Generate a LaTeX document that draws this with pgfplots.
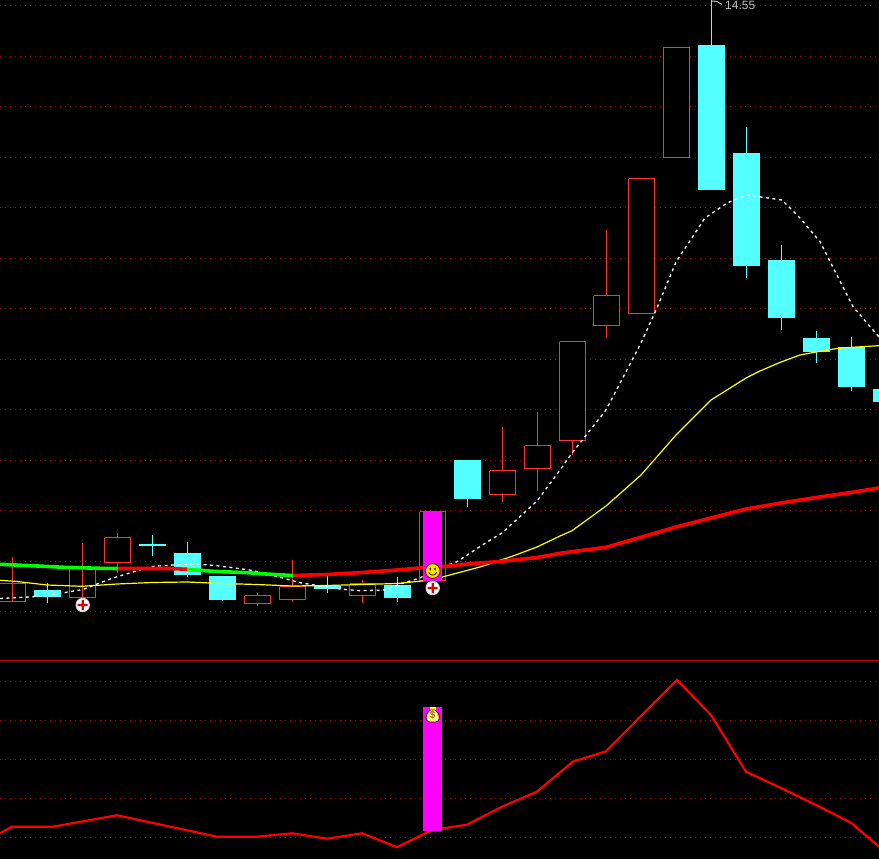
\documentclass[border=0pt]{standalone}
\usepackage{fontspec}
\setmainfont{Liberation Sans}
\usepackage{pgfplots}
\pgfplotsset{compat=1.18}

\definecolor{upred}{HTML}{FF3232}
\definecolor{downcyan}{HTML}{54FFFF}
\definecolor{gridred}{HTML}{C00000}
\definecolor{sepred}{HTML}{C80000}
\definecolor{labelgrey}{HTML}{C0C0C0}
\definecolor{signal}{HTML}{FF00FF}
\definecolor{pureyellow}{HTML}{FFFF00}
\definecolor{purered}{HTML}{FF0000}
\definecolor{puregreen}{HTML}{00FF00}

% hollow candle: left, right, top, bottom, x, wick top, wick bottom
\newcommand{\upcandle}[7]{%
  \addplot[upred, line width=1.2pt, fill=black] coordinates {(#1,#3)(#2,#3)(#2,#4)(#1,#4)(#1,#3)};
  \addplot[upred, line width=1.2pt] coordinates {(#5,#6)(#5,#3)};
  \addplot[upred, line width=1.2pt] coordinates {(#5,#4)(#5,#7)};
}
% filled candle: left, right, top, bottom, x, wick top, wick bottom
\newcommand{\downcandle}[7]{%
  \addplot[downcyan, line width=1.2pt] coordinates {(#5,#6)(#5,#7)};
  \addplot[fill=downcyan, draw=none] coordinates {(#1,#3)(#2,#3)(#2,#4)(#1,#4)};
}

\pgfdeclareplotmark{buyplus}{%
  \pgfsetfillcolor{white!82!black}\pgfpathcircle{\pgfpointorigin}{7.2pt}\pgfusepath{fill}
  \pgfsetfillcolor{white}\pgfpathcircle{\pgfpointorigin}{6.2pt}\pgfusepath{fill}
  \pgfsetfillcolor{purered!90!black}
  \pgfpathrectangle{\pgfpoint{-5pt}{-1.2pt}}{\pgfpoint{10pt}{2.4pt}}
  \pgfpathrectangle{\pgfpoint{-1.2pt}{-5pt}}{\pgfpoint{2.4pt}{10pt}}
  \pgfusepath{fill}
}
\pgfdeclareplotmark{smiley}{%
  \pgfsetfillcolor{pureyellow!78!orange}\pgfsetstrokecolor{black!70!orange}\pgfsetlinewidth{0.9pt}
  \pgfpathcircle{\pgfpointorigin}{7.4pt}\pgfusepath{fill,stroke}
  \pgfsetfillcolor{black!80!orange}
  \pgfpathellipse{\pgfpoint{-2.4pt}{2pt}}{\pgfpoint{0.9pt}{0pt}}{\pgfpoint{0pt}{1.6pt}}
  \pgfpathellipse{\pgfpoint{2.4pt}{2pt}}{\pgfpoint{0.9pt}{0pt}}{\pgfpoint{0pt}{1.6pt}}
  \pgfusepath{fill}
  \pgfsetlinewidth{0.9pt}
  \pgfpathmoveto{\pgfpoint{-4pt}{-1.4pt}}
  \pgfpathcurveto{\pgfpoint{-2.5pt}{-5pt}}{\pgfpoint{2.5pt}{-5pt}}{\pgfpoint{4pt}{-1.4pt}}
  \pgfusepath{stroke}
}
\pgfdeclareplotmark{moneybag}{%
  \pgfsetfillcolor{pureyellow}\pgfsetstrokecolor{black!75!red}\pgfsetlinewidth{0.8pt}
  \pgfpathrectangle{\pgfpoint{-3pt}{5.5pt}}{\pgfpoint{6pt}{3pt}}\pgfusepath{fill}
  \pgfsetfillcolor{pureyellow!55!white}
  \pgfpathmoveto{\pgfpoint{-2.5pt}{5.5pt}}
  \pgfpathcurveto{\pgfpoint{-8pt}{2pt}}{\pgfpoint{-8pt}{-6.5pt}}{\pgfpoint{-3pt}{-6.5pt}}
  \pgfpathlineto{\pgfpoint{3pt}{-6.5pt}}
  \pgfpathcurveto{\pgfpoint{8pt}{-6.5pt}}{\pgfpoint{8pt}{2pt}}{\pgfpoint{2.5pt}{5.5pt}}
  \pgfpathclose
  \pgfusepath{fill,stroke}
  \pgftext{\fontsize{10}{10}\selectfont\bfseries\color{brown!80!black}\$}
}

\begin{document}
\begin{tikzpicture}
\begin{axis}[
    width=879pt, height=859pt, scale only axis,
    xmin=0, xmax=879, ymin=0, ymax=859,
    y dir=reverse,
    xtick=\empty, ytick=\empty,
    axis line style={draw=none},
    axis background/.style={fill=black},
]

% grid of both panels
\pgfplotsinvokeforeach {5.5,56.5,106.5,157.5,207.5,258.5,308.5,359.5,409.5,460.5,510.5,561.5,611.5,681.5,720.5,759.5,798.5,837.5}{
  \addplot[gridred, line width=1.2pt, dash pattern=on 1.3pt off 3.7pt] coordinates {(0,#1)(879,#1)};
}
\addplot[sepred, line width=1.2pt] coordinates {(0,660.5)(879,660.5)};

% candles
\upcandle{-1.5}{25.5}{583.5}{601.5}{12.5}{557}{583.5}
\downcandle{34}{61}{590}{597}{47.5}{583}{603}
\upcandle{69.5}{95.5}{568.5}{597.5}{82.5}{543}{568.5}
\upcandle{104.5}{130.5}{537.5}{562.5}{117.5}{533}{573}
\addplot[downcyan, line width=2pt] coordinates {(139,545)(166,545)};
\addplot[downcyan, line width=1.2pt] coordinates {(152.5,535)(152.5,556)};
\downcandle{174}{201}{553}{575}{187.5}{542}{577}
\downcandle{209}{236}{576}{600}{222.5}{576}{601}
\upcandle{244.5}{270.5}{595.5}{603.5}{257.5}{593}{606}
\upcandle{279.5}{305.5}{586.5}{599.5}{292.5}{560}{602}
\downcandle{314}{341}{586}{589}{327.5}{576}{593}
\upcandle{349.5}{375.5}{583.5}{595.5}{362.5}{580}{603}
\downcandle{384}{411}{585}{598}{397.5}{577}{602}
\upcandle{419.5}{445.5}{511.5}{580.5}{432.5}{511.5}{580.5}
\downcandle{454}{481}{460}{499}{467.5}{460}{507}
\upcandle{489.5}{515.5}{470.5}{494.5}{502.5}{427}{502}
\upcandle{524.5}{550.5}{445.5}{468.5}{537.5}{412}{491}
\upcandle{559.5}{585.5}{341.5}{440.5}{572.5}{341.5}{455}
\upcandle{593.5}{619.5}{295.5}{325.5}{606.5}{230}{337}
\upcandle{628.5}{654.5}{178.5}{313.5}{641.5}{178.5}{313.5}
\upcandle{663.5}{689.5}{47.5}{157.5}{676.5}{47.5}{157.5}
\downcandle{698}{725}{45}{190}{711.5}{0}{190}
\downcandle{733}{760}{153}{266}{746.5}{127}{278}
\downcandle{768}{795}{260}{318}{781.5}{245}{330}
\downcandle{803}{830}{338}{352}{816.5}{331}{363}
\downcandle{838}{865}{347}{387}{851.5}{337}{391}
\downcandle{873}{900}{389}{402}{886.5}{389}{402}

% white dashed average
\addplot[white, line width=1.3pt, dash pattern=on 3pt off 3.5pt] coordinates {
  (0,598.5)(29,597)(47,595.5)(83,589.5)(97,584)(113,578)(133,572)(150,566.7)
  (173,565)(200,564.3)(217,565.7)(250,570)(283,578)(300,582.7)(320,586)
  (340,589)(360,590.7)(385,590)(400,584)(420,578)(432,571)(457,561.7)
  (487,542)(502,533)(537,501)(560,470)(572,453)(606,410)(641,343)(657,308)
  (676,262)(705,218)(727,203)(747,195)(782,200)(800,218)(820,241.7)(853,306.7)(879,337)
};

% yellow average
\addplot[pureyellow, line width=1.2pt] coordinates {
  (0,580.3)(17,581.5)(34,583.5)(47,585)(82,586.3)(117,584)(152,582.5)(187,582)
  (222,583.5)(257,584.5)(292,586)(327,585.5)(362,584.5)(397,583.5)(432,580)
  (446,576)(480,567)(513,556)(537,547)(560,536)(572,530.7)(606,506)(641,475)
  (676,435)(711,400)(746,378)(760,371)(781,362)(800,355)(816,352)(840,348)(879,345.7)
};

% thick average, red when rising and green when falling
\addplot[puregreen, line width=3.6pt] coordinates {
  (0,564.3)(22,565.3)(38,566)(64,567.3)(100,568.3)(118,568.5)
};
\addplot[purered, line width=3.6pt] coordinates {
  (118,568.5)(170,568.5)(187,569.3)
};
\addplot[puregreen, line width=3.6pt] coordinates {
  (187,569.3)(213,571.3)(248,572.7)(266,574)(293,575.5)
};
\addplot[purered, line width=3.6pt] coordinates {
  (293,575.5)(327,574.5)(362,572.5)(397,570)(420,568)(450,566)(470,563.7)
  (500,561.5)(537,557.5)(560,553.3)(606,547.3)(641,537.3)(676,527)
  (711,518)(746,509)(781,503)(816,497.5)(851,492.5)(879,488)
};

% lower panel line
\addplot[purered, line width=2.2pt] coordinates {
  (0,833.3)(12,826.7)(53,826.7)(117,815.3)(217,836.7)(257,836.7)(292,833.3)
  (327,838.7)(362,833.3)(397,847.3)(432,830)(467,824.7)(502,806.7)(537,791.7)
  (572.7,761.7)(606,751.3)(641,716)(677,680)(711,715)(746,771.7)(781,788)
  (816,805)(851,822.7)(879,846.7)
};

% signal bars
\addplot[fill=signal, draw=none] coordinates {(423,511)(442,511)(442,581)(423,581)};
\addplot[fill=signal, draw=none] coordinates {(423,707)(442,707)(442,831)(423,831)};

% signal icons
\addplot[only marks, mark=buyplus] coordinates {(82.7,605)(432.7,588)};
\addplot[only marks, mark=smiley] coordinates {(432.7,571)};
\addplot[only marks, mark=moneybag] coordinates {(432.7,715.5)};

% high price flag
\addplot[labelgrey, line width=1pt] coordinates {(712,1)(717,1.5)(722,4.5)};
\node[anchor=base west, text=labelgrey, inner sep=0pt, font=\fontsize{12}{12}\selectfont] at (axis cs:725,10) {14.55};

\end{axis}
\end{tikzpicture}
\end{document}
